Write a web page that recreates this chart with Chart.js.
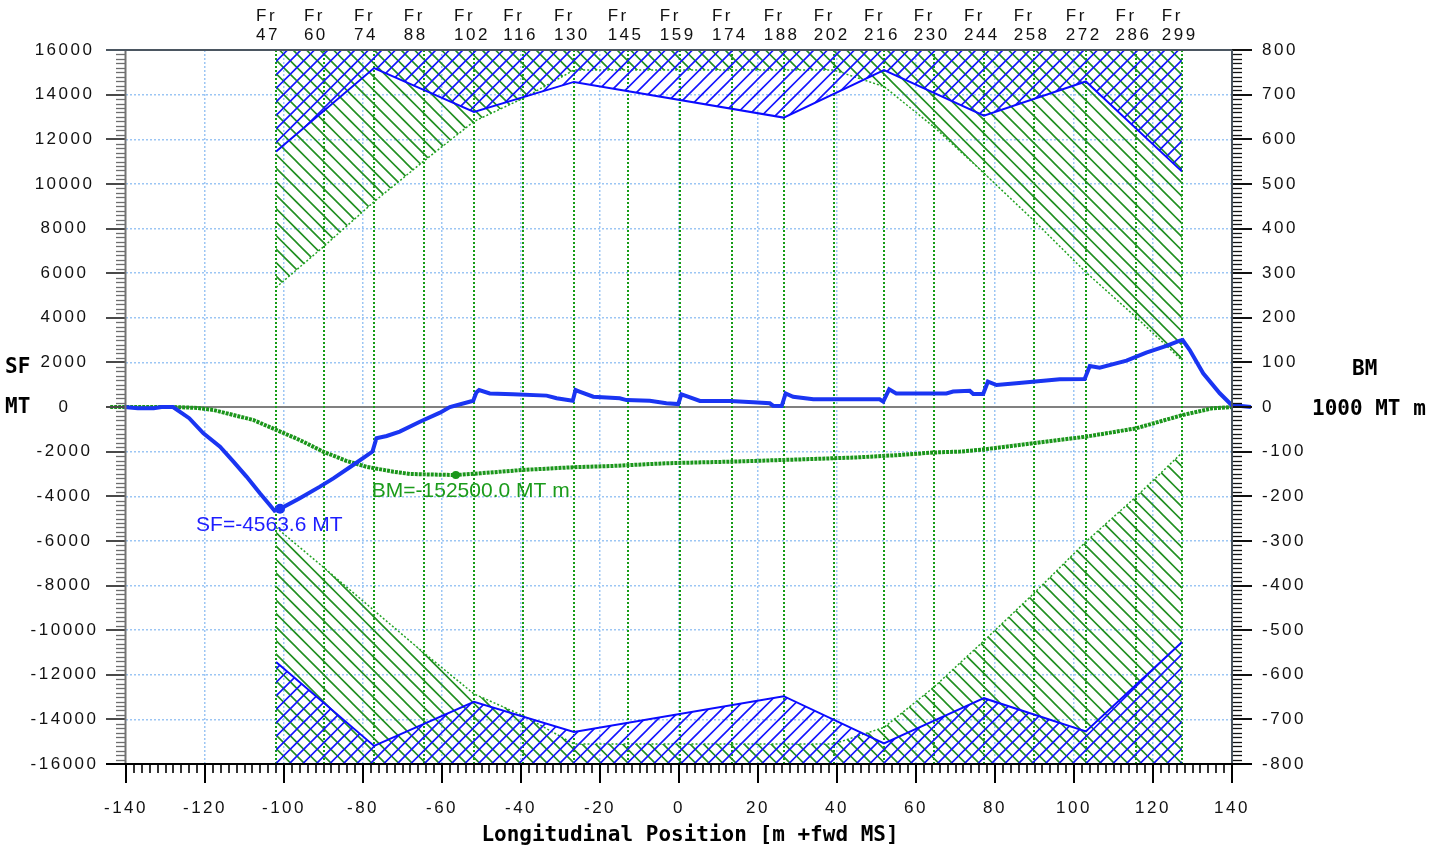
<!DOCTYPE html>
<html>
<head>
<meta charset="utf-8">
<title>Shear force and bending moment</title>
<script src="https://cdn.jsdelivr.net/npm/chart.js@4.4.1/dist/chart.umd.min.js"></script>
<style>
  html, body { margin: 0; padding: 0; background: #ffffff; }
  canvas { display: block; }
</style>
</head>
<body>
<canvas id="chart" width="1442" height="852"></canvas>
<script>
// Frame stations along the hull [m from midship]
const frameNames = ['47', '60', '74', '88', '102', '116', '130', '145', '159', '174',
                    '188', '202', '216', '230', '244', '258', '272', '286', '299'];
const framePos = [-102.0, -89.9, -77.2, -64.6, -51.9, -39.4, -26.6, -13.0, 0.2, 13.4,
                  26.5, 39.2, 51.9, 64.5, 77.2, 89.8, 103.0, 115.6, 127.3];

// Permissible shear force [MT] at the check frames
const sfLimitPos = [-102.0, -77.2, -51.9, -26.6, 26.5, 51.9, 77.2, 103.0, 127.3];
const sfLimitUpper = [11450, 15190, 13220, 14570, 12970, 15100, 13060, 14590, 10560];
const sfLimitLower = [-11430, -15190, -13210, -14560, -12960, -15080, -13050, -14540, -10540];

// Permissible bending moment [1000 MT m] at every frame station
const bmLimitUpper = [268, 360, 460, 551, 640, 692, 755, 755, 755, 755,
                      755, 755, 718, 628, 524, 418, 302, 202, 105];
const bmLimitLower = [-270, -360, -456, -551, -643, -692, -755, -755, -755, -755,
                      -755, -755, -718, -628, -524, -418, -302, -202, -103];

// Shear force distribution [MT]
const sfX = [-144.0, -140.5, -137.0, -133.0, -131.0, -128.1, -124.0, -120.4, -116.2, -112.8,
             -109.5, -106.1, -103.6, -102.4, -101.0, -96.0, -90.9, -87.5, -82.5, -77.6,
             -76.6, -74.0, -70.7, -65.6, -60.5, -58.0, -52.1, -51.3, -50.6, -47.9,
             -42.0, -33.5, -31.0, -26.9, -26.2, -25.2, -21.7, -15.0, -13.3, -7.4,
             -3.2, -0.2, 0.6, 1.9, 5.3, 12.9, 18.8, 23.0, 23.8, 26.0,
             27.0, 28.9, 34.0, 50.8, 51.7, 53.2, 55.0, 67.7, 69.4, 73.6,
             74.5, 77.0, 78.2, 80.4, 85.4, 96.4, 102.7, 104.0, 106.5, 113.3,
             118.3, 123.4, 126.8, 127.5, 129.3, 132.7, 136.9, 139.9, 144.8];
const sfY = [0, 0, -60, -60, 0, 0, -500, -1180, -1780, -2450,
             -3120, -3870, -4390, -4650, -4563.6, -4090, -3570, -3200, -2600, -2000,
             -1400, -1300, -1100, -660, -255, 0, 280, 650, 760, 610,
             570, 510, 390, 280, 760, 690, 460, 390, 310, 280,
             165, 130, 570, 490, 270, 270, 210, 165, 60, 45,
             610, 460, 345, 345, 240, 790, 610, 610, 690, 730,
             580, 580, 1135, 985, 1060, 1240, 1255, 1840, 1760, 2075,
             2435, 2735, 2970, 3000, 2555, 1510, 615, 90, 0];

// Bending moment distribution [1000 MT m]
const bmX = [-144.0, -128.0, -122.0, -117.9, -112.8, -107.8, -101.9, -96.0, -90.1, -84.1,
             -79.1, -72.3, -68.1, -62.0, -56.5, -50.4, -39.4, -26.8, -16.7, -3.2,
             12.9, 32.3, 44.9, 55.9, 64.3, 71.1, 77.2, 89.8, 103.0, 115.6,
             127.5, 135.0, 140.0, 144.8];
const bmY = [0, 0, -2, -6.7, -18, -29, -51.5, -74, -100, -121,
             -134, -145, -150, -151.5, -152.5, -148.6, -141, -135, -132, -126,
             -122.5, -117, -113, -107.6, -102, -100, -95, -81, -66.5, -48,
             -18, -3, 0, 0];

// Extreme values marked on the curves
const sfPeak = { x: -101.0, y: -4563.6 };
const bmPeak = { x: -56.5, y: -152.5 };

const pts = (xs, ys) => xs.map((v, i) => ({ x: v, y: ys[i] }));

// Diagonal hatch fill: '/' or '\' lines every 13.5 px
function hatch(color, dir) {
  const size = 27, period = 13.5;
  const c = document.createElement('canvas');
  c.width = size; c.height = size;
  const g = c.getContext('2d');
  g.strokeStyle = color;
  g.lineWidth = 1.6;
  g.beginPath();
  if (dir === '/') {
    for (let k = 0; k <= 4; k++) {
      const o = k * period;               // x + y = o
      g.moveTo(-4, o + 4);
      g.lineTo(size + 4, o - size - 4);
    }
  } else {
    for (let k = -2; k <= 2; k++) {
      const o = k * period;               // x - y = o
      g.moveTo(-4, -4 - o);
      g.lineTo(size + 4, size + 4 - o);
    }
  }
  g.stroke();
  return g.createPattern(c, 'repeat');
}

const blueHatch = hatch('#1414ff', '/');
const greenHatch = hatch('#218f21', '\\');

const TICK_FONT = '17px "Liberation Sans", Arial, sans-serif';
const TITLE_FONT = 'bold 21px "DejaVu Sans Mono", monospace';
const NOTE_FONT = '21px "Liberation Sans", Arial, sans-serif';

function seg(ctx, x1, y1, x2, y2) {
  ctx.beginPath();
  ctx.moveTo(x1, y1);
  ctx.lineTo(x2, y2);
  ctx.stroke();
}

function text(ctx, s, x, y, font, color, align, spacing) {
  ctx.font = font;
  ctx.fillStyle = color;
  ctx.textAlign = align || 'left';
  ctx.textBaseline = 'middle';
  ctx.letterSpacing = spacing || '0px';
  ctx.fillText(s, x, y);
}

const decor = {
  id: 'decor',
  beforeDraw(chart) {
    chart.ctx.letterSpacing = '2.5px';
  },
  beforeDatasetsDraw(chart) {
    const { ctx, chartArea: a, scales: { x, y } } = chart;
    ctx.save();
    ctx.letterSpacing = '0px';
    // zero line
    const y0 = Math.round(y.getPixelForValue(0));
    ctx.strokeStyle = '#808080';
    ctx.lineWidth = 2;
    seg(ctx, a.left - 20, y0, a.right, y0);
    // frame stations
    ctx.strokeStyle = '#159c15';
    ctx.lineWidth = 2;
    ctx.setLineDash([2, 2]);
    framePos.forEach(p => {
      const px = Math.round(x.getPixelForValue(p));
      seg(ctx, px, a.top, px, a.bottom);
    });
    ctx.restore();
  },
  afterDatasetsDraw(chart) {
    const { ctx, scales: { x, y, y2 } } = chart;
    ctx.save();
    const sx = x.getPixelForValue(sfPeak.x), sy = y.getPixelForValue(sfPeak.y);
    text(ctx, 'SF=' + sfPeak.y.toFixed(1) + ' MT', sx - 84, sy + 16, NOTE_FONT, '#1e1eff');
    const bx = x.getPixelForValue(bmPeak.x), by = y2.getPixelForValue(bmPeak.y);
    text(ctx, 'BM=' + (bmPeak.y * 1000).toFixed(1) + ' MT m', bx - 84, by + 16, NOTE_FONT, '#1b9b1b');
    ctx.restore();
  },
  afterDraw(chart) {
    const { ctx, chartArea: a, scales: { x, y, y2 } } = chart;
    ctx.save();
    ctx.setLineDash([]);
    // left axis ticks
    for (let v = -16000; v <= 16000; v += 200) {
      const major = v % 2000 === 0;
      const py = Math.round(y.getPixelForValue(v)) + (major ? 0 : 0.5);
      ctx.strokeStyle = major ? '#4a4a4a' : '#6e6e6e';
      ctx.lineWidth = major ? 2 : 1.3;
      seg(ctx, a.left - (major ? 20 : 10), py, a.left, py);
    }
    // right axis ticks
    for (let v = -800; v <= 800; v += 10) {
      const major = v % 100 === 0;
      const py = Math.round(y2.getPixelForValue(v)) + (major ? 0 : 0.5);
      ctx.strokeStyle = '#111111';
      ctx.lineWidth = major ? 2 : 1.3;
      seg(ctx, a.right, py, a.right + (major ? 20 : 10), py);
    }
    // bottom axis ticks
    for (let v = -140; v <= 140; v += 2) {
      const major = v % 20 === 0;
      const px = Math.round(x.getPixelForValue(v));
      ctx.strokeStyle = '#000000';
      ctx.lineWidth = major ? 2 : 1.6;
      seg(ctx, px, a.bottom, px, a.bottom + (major ? 19 : 9));
    }
    // axis lines
    ctx.lineWidth = 2;
    ctx.strokeStyle = '#727272';
    seg(ctx, a.left - 0.5, a.top, a.left - 0.5, a.bottom);
    ctx.strokeStyle = '#4b5661';
    seg(ctx, a.left - 20, a.top, a.right, a.top);
    seg(ctx, a.right, a.top, a.right, a.bottom);
    ctx.strokeStyle = '#000000';
    seg(ctx, a.left - 20, a.bottom, a.right + 20, a.bottom);

    // frame labels
    framePos.forEach((p, i) => {
      const px = x.getPixelForValue(p);
      text(ctx, 'Fr', px - 20, 16, TICK_FONT, '#111111', 'left', '2.5px');
      text(ctx, frameNames[i], px - 20, 35.5, TICK_FONT, '#111111', 'left', '2.5px');
    });

    // axis titles
    text(ctx, 'SF', 5, 368, TITLE_FONT, '#000000');
    text(ctx, 'MT', 5, 408, TITLE_FONT, '#000000');
    text(ctx, 'BM', 1352, 370, TITLE_FONT, '#000000');
    text(ctx, '1000 MT m', 1312, 410, TITLE_FONT, '#000000');
    text(ctx, 'Longitudinal Position [m +fwd MS]', 690, 836, TITLE_FONT, '#000000', 'center');
    ctx.restore();
    ctx.letterSpacing = '0px';
  }
};

const edgeFree = (lo, hi) => ctx => {
  const v = ctx.tick ? ctx.tick.value : null;
  return (v === lo || v === hi || v === 0 && lo === -16000) ? 'rgba(0,0,0,0)' : '#9cc6f4';
};

new Chart(document.getElementById('chart'), {
  type: 'line',
  data: {
    datasets: [
      { label: 'SF max', data: [sfPeak], yAxisID: 'y', showLine: false, pointRadius: 5,
        pointBackgroundColor: '#1a35f2', pointBorderWidth: 0, clip: false, order: 0 },
      { label: 'BM max', data: [bmPeak], yAxisID: 'y2', showLine: false, pointRadius: 4,
        pointBackgroundColor: '#1b961b', pointBorderWidth: 0, clip: false, order: 1 },
      { label: 'SF', data: pts(sfX, sfY), yAxisID: 'y', borderColor: '#1a35f2', borderWidth: 4,
        pointRadius: 0, fill: false, clip: false, order: 2 },
      { label: 'BM', data: pts(bmX, bmY), yAxisID: 'y2', borderColor: '#1b961b', borderWidth: 4,
        borderDash: [3, 1], pointRadius: 0, fill: false, clip: false, order: 3 },
      { label: 'SF limit +', data: pts(sfLimitPos, sfLimitUpper), yAxisID: 'y', borderColor: '#0b0bff',
        borderWidth: 2, pointRadius: 0, fill: 'end', backgroundColor: blueHatch, order: 5 },
      { label: 'SF limit -', data: pts(sfLimitPos, sfLimitLower), yAxisID: 'y', borderColor: '#0b0bff',
        borderWidth: 2, pointRadius: 0, fill: 'start', backgroundColor: blueHatch, order: 5 },
      { label: 'BM limit +', data: pts(framePos, bmLimitUpper), yAxisID: 'y2', borderColor: '#22a322',
        borderWidth: 1.5, borderDash: [2, 2], pointRadius: 0, fill: 'end', backgroundColor: greenHatch, order: 7 },
      { label: 'BM limit -', data: pts(framePos, bmLimitLower), yAxisID: 'y2', borderColor: '#22a322',
        borderWidth: 1.5, borderDash: [2, 2], pointRadius: 0, fill: 'start', backgroundColor: greenHatch, order: 7 }
    ]
  },
  options: {
    responsive: false,
    animation: false,
    devicePixelRatio: 1,
    layout: { padding: { top: 50, left: 0, right: 0, bottom: 0 } },
    plugins: { legend: { display: false }, tooltip: { enabled: false } },
    elements: { line: { tension: 0 } },
    scales: {
      x: {
        type: 'linear', position: 'bottom', min: -140, max: 140,
        afterFit: s => { s.height = 88; },
        ticks: { stepSize: 20, autoSkip: false, maxRotation: 0, padding: 34,
                 font: { family: '"Liberation Sans", Arial, sans-serif', size: 17 }, color: '#111111',
                 callback: v => String(v) },
        grid: { color: edgeFree(-140, 140), lineWidth: 1.5, drawTicks: false },
        border: { display: false, dash: [2, 2] }
      },
      y: {
        type: 'linear', position: 'left', min: -16000, max: 16000,
        afterFit: s => { s.width = 126; },
        ticks: { stepSize: 2000, autoSkip: false, padding: 35, crossAlign: 'center',
                 font: { family: '"Liberation Sans", Arial, sans-serif', size: 17 }, color: '#111111',
                 callback: v => String(v) },
        grid: { color: edgeFree(-16000, 16000), lineWidth: 1.5, drawTicks: false },
        border: { display: false, dash: [2, 2] }
      },
      y2: {
        type: 'linear', position: 'right', min: -800, max: 800,
        afterFit: s => { s.width = 210; },
        ticks: { stepSize: 100, autoSkip: false, padding: 30, crossAlign: 'near',
                 font: { family: '"Liberation Sans", Arial, sans-serif', size: 17 }, color: '#111111',
                 callback: v => String(v) },
        grid: { display: false, drawTicks: false },
        border: { display: false }
      }
    }
  },
  plugins: [decor]
});
</script>
</body>
</html>
